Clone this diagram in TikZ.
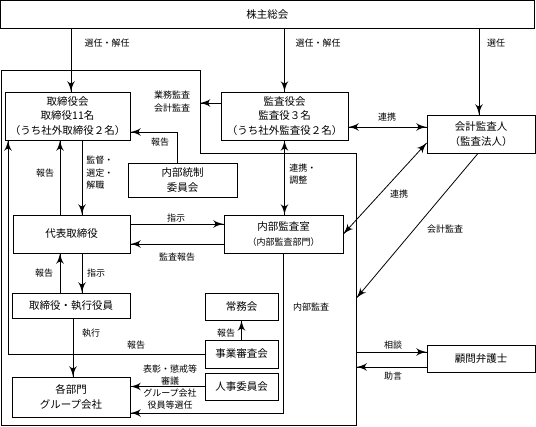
\documentclass[tikz,border=0pt]{standalone}
\usepackage{fontspec}
\setmainfont{Noto Sans CJK JP}
\usepackage{tikz}
\usetikzlibrary{arrows}
\usetikzlibrary{decorations.markings}
\tikzset{arr/.style = {decoration={markings,
                                   mark=at position 1 with {\arrow[scale=2]{latex'}}},
                       postaction={decorate}}}
\tikzset{darr/.style = {decoration={markings,
                                    mark=at position 0 with {\arrowreversed[scale=2]{latex'}},
                                    mark=at position 1 with {\arrow[scale=2]{latex'}}},
                        postaction={decorate}}}
\tikzset{box/.style = {draw, inner sep=0pt, align=center,
                       font=\fontsize{10.5}{14.5}\selectfont}}
\tikzset{lbl/.style = {inner sep=0pt, align=center,
                       font=\fontsize{9}{12.5}\selectfont}}

\begin{document}
\begin{tikzpicture}[x=1pt, y=-1pt, line width=0.8pt]
  \useasboundingbox (0,0) rectangle (536,427);
  % boxes
  \node [box, minimum width=533.5pt, minimum height=27.5pt] (sokai) at (267.25,14.25) {株主総会};
  \node [box, minimum width=125pt, minimum height=48pt] (board) at (67.5,116) {取締役会\\取締役11名\\（うち社外取締役２名）};
  \node [box, minimum width=127pt, minimum height=48pt] (kansa) at (284.5,116) {監査役会\\監査役３名\\（うち社外監査役２名）};
  \node [box, minimum width=108pt, minimum height=38pt] (kaikei) at (481,134) {会計監査人\\（監査法人）};
  \node [box, minimum width=109pt, minimum height=34pt] (tosei) at (182.5,180) {内部統制\\委員会};
  \node [box, minimum width=117pt, minimum height=38pt] (daihyo) at (71.5,234) {代表取締役};
  \node [box, minimum width=119pt, minimum height=38pt] (naibu) at (283.5,234) {内部監査室\\{\fontsize{9}{12}\selectfont（内部監査部門）}};
  \node [box, minimum width=118pt, minimum height=25pt] (shikko) at (71,305.5) {取締役・執行役員};
  \node [box, minimum width=73pt, minimum height=27pt] (jomu) at (241.5,306.5) {常務会};
  \node [box, minimum width=73pt, minimum height=28pt] (jigyo) at (241.5,354) {事業審査会};
  \node [box, minimum width=73pt, minimum height=27pt] (jinji) at (241.5,386.5) {人事委員会};
  \node [box, minimum width=118pt, minimum height=40pt] (bumon) at (71,397) {各部門\\グループ会社};
  \node [box, minimum width=108pt, minimum height=27pt] (bengo) at (481,358.5) {顧問弁護士};
  % company frame
  \draw (1,70) -- (200,70) -- (200,153) -- (356.5,153) -- (356.5,425.5) -- (1,425.5) -- cycle;
  \coordinate (auditL) at (200,103);
  \coordinate (auditR) at (356.5,298);
  \coordinate (lawL) at (356.5,352);
  % general meeting
  \draw [arr] ([xshift=3.5pt]board.north |- sokai.south) -- ([xshift=3.5pt]board.north);
  \draw [arr] (kansa.north |- sokai.south) -- (kansa.north);
  \draw [arr] ([xshift=-2pt]kaikei.north |- sokai.south) -- ([xshift=-2pt]kaikei.north);
  \node [lbl] (elect1) at (107,43) {選任・解任};
  \node [lbl] (elect2) at (318,43) {選任・解任};
  \node [lbl] (elect3) at (496,43) {選任};
  % auditors
  \draw [arr] (kansa.west |- auditL) -- (auditL);
  \node [lbl] (audit) at (172,101.5) {業務監査\\会計監査};
  \draw [darr] ([yshift=-11pt]kansa.east) -- ([yshift=-11pt]kansa.east -| kaikei.west);
  \node [lbl] (link1) at (387,117) {連携};
  \draw [darr] (kansa.south) -- (kansa.south |- naibu.north);
  \node [lbl, align=left, anchor=west] (link2) at (289,174) {連携・\\調整};
  % board
  \draw [arr] ([xshift=-5.5pt]tosei.north) |- ([yshift=-16pt]board.east);
  \node [lbl] (rep1) at (160,142) {報告};
  \draw [arr] ([xshift=14.5pt]board.south) -- ([xshift=14.5pt]board.south |- daihyo.north);
  \node [lbl, align=left, anchor=west] (superv) at (86,173) {監督・\\選定・\\解職};
  \draw [arr] ([xshift=-7.5pt]board.south |- daihyo.north) -- ([xshift=-7.5pt]board.south);
  \node [lbl] (rep2) at (45,173) {報告};
  \draw [arr] (jigyo.west) -| ([xshift=-59.5pt]board.south);
  \node [lbl] (rep3) at (136,345) {報告};
  % representative director
  \draw [arr] ([yshift=10pt]daihyo.east) -- ([yshift=10pt]daihyo.east -| naibu.west);
  \node [lbl] (instr1) at (176,218) {指示};
  \draw [arr] ([yshift=-10pt]naibu.west) -- ([yshift=-10pt]naibu.west -| daihyo.east);
  \node [lbl] (rep4) at (177,257) {監査報告};
  \draw [arr] ([xshift=10.5pt]daihyo.south) -- ([xshift=10.5pt]daihyo.south |- shikko.north);
  \node [lbl] (instr2) at (96,273) {指示};
  \draw [arr] ([xshift=-11.5pt]daihyo.south |- shikko.north) -- ([xshift=-11.5pt]daihyo.south);
  \node [lbl] (rep5) at (44,273) {報告};
  % execution
  \draw [arr] ([xshift=2pt]shikko.south) -- ([xshift=2pt]bumon.north);
  \node [lbl] (exec) at (91,333) {執行};
  \draw [arr] (jigyo.north) -- (jomu.south);
  \node [lbl] (rep6) at (226,333) {報告};
  \draw [arr] (jinji.west) -- (jinji.west -| bumon.east);
  \node [lbl] (award) at (170,375) {表彰・懲戒等\\審議};
  \node [lbl] (appoint) at (170,399) {グループ会社\\役員等選任};
  \draw [arr] (naibu.south) |- ([yshift=-16pt]bumon.east);
  \node [lbl] (inaudit) at (311,307) {内部監査};
  % accounting auditor and lawyer
  \draw [darr] ([yshift=-9pt]kaikei.west) -- (naibu.east);
  \node [lbl] (link3) at (399,194) {連携};
  \draw [arr] ([xshift=-3pt]kaikei.south) -- (auditR);
  \node [lbl] (acc) at (445,229) {会計監査};
  \draw [arr] (lawL) -- (lawL -| bengo.west);
  \node [lbl] (consult) at (393,345) {相談};
  \draw [arr] ([yshift=-8.5pt]bengo.west) -- ([yshift=-8.5pt]bengo.west -| lawL);
  \node [lbl] (advice) at (393,376) {助言};
\end{tikzpicture}
\end{document}
